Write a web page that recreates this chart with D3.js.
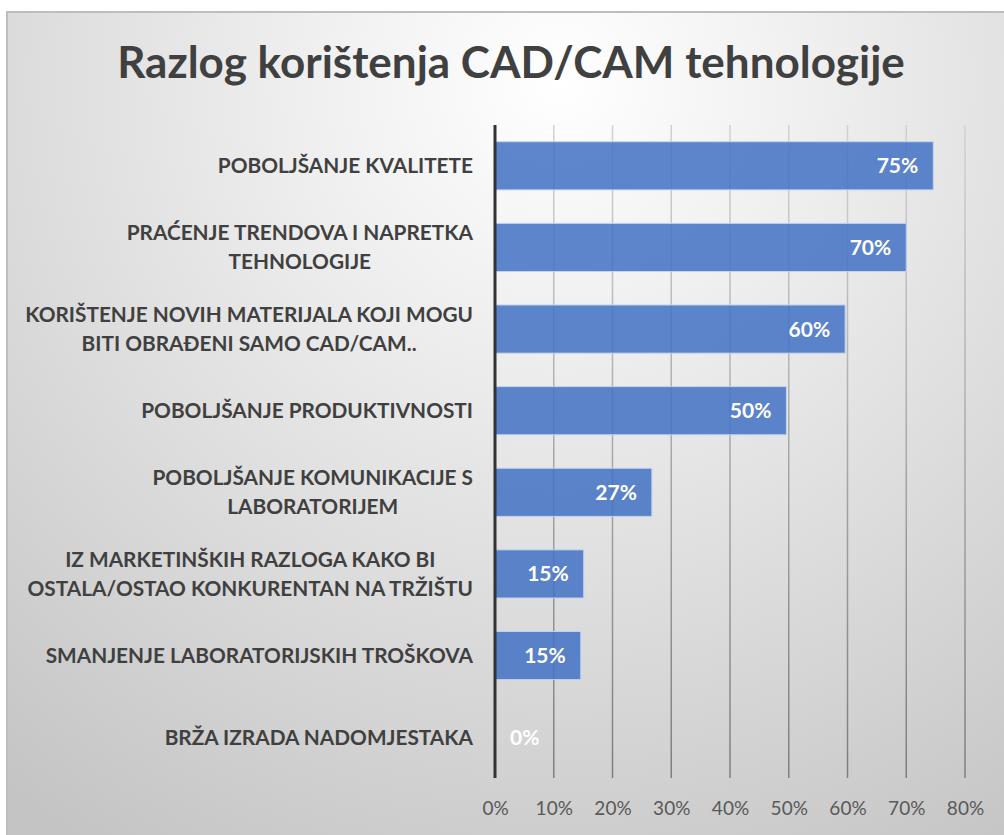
<!DOCTYPE html>
<html>
<head>
<meta charset="utf-8">
<script src="https://cdn.jsdelivr.net/npm/d3@7"></script>
<style>
  body { margin: 0; background: #fff; }
  svg { display: block; }
</style>
</head>
<body>
<div id="chart"></div>
<script>
// categories (line breaks as wrapped in the original)
var categories = [
    "POBOLJŠANJE KVALITETE",
    "PRAĆENJE TRENDOVA I NAPRETKA\nTEHNOLOGIJE",
    "KORIŠTENJE NOVIH MATERIJALA KOJI MOGU\nBITI OBRAĐENI SAMO CAD/CAM..",
    "POBOLJŠANJE PRODUKTIVNOSTI",
    "POBOLJŠANJE KOMUNIKACIJE S\nLABORATORIJEM",
    "IZ MARKETINŠKIH RAZLOGA KAKO BI\nOSTALA/OSTAO KONKURENTAN NA TRŽIŠTU",
    "SMANJENJE LABORATORIJSKIH TROŠKOVA",
    "BRŽA IZRADA NADOMJESTAKA"
];
var values = [0.746, 0.70, 0.596, 0.496, 0.267, 0.151, 0.146, 0];
var xTicks = [0, 0.1, 0.2, 0.3, 0.4, 0.5, 0.6, 0.7, 0.8];
var title = "Razlog korištenja CAD/CAM tehnologije";

var data = categories.map((c, i) => ({ name: c, value: values[i] }));

var W = 1004, H = 835;
var margin = { top: 125, right: 39, bottom: 57, left: 495 };

var svg = d3.select("#chart")
    .append("svg")
    .attr("width", W)
    .attr("height", H);

var defs = svg.append("defs");
var bg = defs.append("radialGradient")
    .attr("id", "bg")
    .attr("gradientUnits", "userSpaceOnUse")
    .attr("cx", 560).attr("cy", 80).attr("r", 900);
bg.append("stop").attr("offset", "0%").attr("stop-color", "#ffffff");
bg.append("stop").attr("offset", "25%").attr("stop-color", "#f1f1f1");
bg.append("stop").attr("offset", "100%").attr("stop-color", "#c4c4c4");

var gridGrad = defs.append("linearGradient")
    .attr("id", "gridGrad")
    .attr("gradientUnits", "userSpaceOnUse")
    .attr("x1", 0).attr("y1", margin.top)
    .attr("x2", 0).attr("y2", H - margin.bottom);
gridGrad.append("stop").attr("offset", "0%").attr("stop-color", "#d2d2d2");
gridGrad.append("stop").attr("offset", "100%").attr("stop-color", "#7e7e7e");

// frame
svg.append("rect")
    .attr("x", 7).attr("y", 12)
    .attr("width", W).attr("height", H)
    .attr("fill", "url(#bg)")
    .attr("stroke", "#bdbdbd")
    .attr("stroke-width", 2);

svg.append("text")
    .attr("x", 511)
    .attr("y", 78)
    .attr("text-anchor", "middle")
    .style("font-family", "Lato, 'Open Sans', sans-serif")
    .style("font-weight", "bold")
    .style("font-size", "44px")
    .style("fill", "#404040")
    .text(title);

var xScale = d3.scaleLinear()
    .domain([0, 0.8])
    .range([margin.left, W - margin.right]);

var yScale = d3.scaleBand()
    .domain(categories)
    .range([margin.top, H - margin.bottom])
    .paddingInner(0.41)
    .paddingOuter(0.205);

// gridlines
svg.append("g")
    .selectAll("line")
    .data(xTicks.slice(1))
    .enter().append("line")
    .attr("x1", d => xScale(d))
    .attr("x2", d => xScale(d))
    .attr("y1", margin.top)
    .attr("y2", H - margin.bottom)
    .attr("stroke", "url(#gridGrad)")
    .attr("stroke-width", 1.5);

// bars
svg.selectAll(".bar")
    .data(data)
    .enter().append("rect")
    .attr("class", "bar")
    .attr("x", xScale(0))
    .attr("y", d => yScale(d.name))
    .attr("width", d => xScale(d.value) - xScale(0))
    .attr("height", yScale.bandwidth())
    .attr("fill", "#4472c4")
    .attr("fill-opacity", 0.86)
    .attr("stroke", d => d.value > 0 ? "#c3d3ef" : "none")
    .attr("stroke-width", 1);

// axis line
svg.append("line")
    .attr("x1", xScale(0)).attr("x2", xScale(0))
    .attr("y1", margin.top).attr("y2", H - margin.bottom)
    .attr("stroke", "#333")
    .attr("stroke-width", 3);

// bottom tick labels
var xAxis = svg.append("g")
    .attr("transform", "translate(0," + (H - margin.bottom) + ")")
    .call(d3.axisBottom(xScale).tickValues(xTicks).tickFormat(d3.format(".0%")).tickSize(0).tickPadding(24));
xAxis.select(".domain").remove();
xAxis.selectAll("text")
    .style("font-family", "Lato, 'Open Sans', sans-serif")
    .style("font-size", "19px")
    .style("fill", "#595959");

// value labels
svg.selectAll(".val")
    .data(data)
    .enter().append("text")
    .attr("class", "val")
    .attr("x", d => d.value > 0 ? xScale(d.value) - 15 : xScale(0) + 15)
    .attr("y", d => yScale(d.name) + yScale.bandwidth() / 2)
    .attr("dy", "0.36em")
    .attr("text-anchor", d => d.value > 0 ? "end" : "start")
    .style("font-family", "Lato, 'Open Sans', sans-serif")
    .style("font-weight", "bold")
    .style("font-size", "21px")
    .style("fill", "#ffffff")
    .text(d => d3.format(".0%")(d.value));

// category labels, multi-line blocks centred then right-aligned
var labelRight = margin.left - 22;
var lineGap = 29;
data.forEach(function(d) {
    var lines = d.name.split("\n");
    var cy = yScale(d.name) + yScale.bandwidth() / 2;
    var t = svg.append("text")
        .style("font-family", "Lato, 'Open Sans', sans-serif")
        .style("font-weight", "bold")
        .style("font-size", "20.8px")
        .style("fill", "#404040");
    var spans = lines.map(function(l, i) {
        return t.append("tspan")
            .attr("y", cy + (i - (lines.length - 1) / 2) * lineGap)
            .attr("dy", "0.36em")
            .text(l);
    });
    var maxW = d3.max(spans, s => s.node().getComputedTextLength());
    spans.forEach(function(s) {
        s.attr("x", labelRight - maxW / 2).attr("text-anchor", "middle");
    });
});
</script>
</body>
</html>
